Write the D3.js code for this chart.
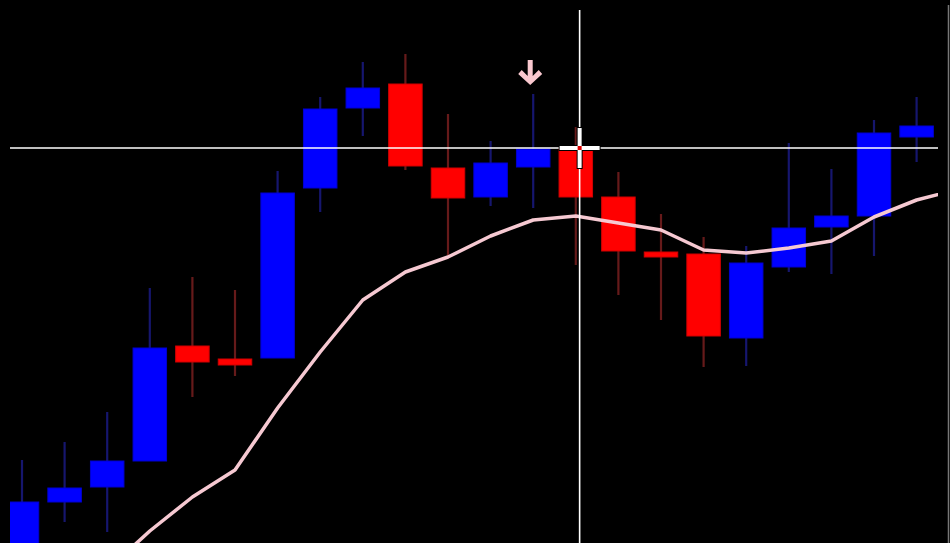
<!DOCTYPE html>
<html>
<head>
<meta charset="utf-8">
<script src="https://cdn.jsdelivr.net/npm/d3@7/dist/d3.min.js"></script>
<style>
  html, body { margin: 0; padding: 0; background: #000; }
  svg { display: block; }
</style>
</head>
<body>
<svg id="chart" width="950" height="543"></svg>
<script>
// ---- data ----
const opens  = [1.1983, 1.2041, 1.2056, 1.2082, 1.2197, 1.2184, 1.2185, 1.2355, 1.2435, 1.2459, 1.2375, 1.2346, 1.2376, 1.2395, 1.2346, 1.2291, 1.2289, 1.2205, 1.2276, 1.2316, 1.2327, 1.2406];
const highs  = [1.2083, 1.2101, 1.2131, 1.2255, 1.2266, 1.2253, 1.2372, 1.2446, 1.2481, 1.2489, 1.2429, 1.2402, 1.2449, 1.2416, 1.2371, 1.2329, 1.2306, 1.2297, 1.2400, 1.2374, 1.2423, 1.2446];
const lows   = [1.1968, 1.2021, 1.2011, 1.2082, 1.2146, 1.2167, 1.2185, 1.2331, 1.2407, 1.2373, 1.2288, 1.2337, 1.2335, 1.2278, 1.2248, 1.2223, 1.2176, 1.2177, 1.2271, 1.2269, 1.2287, 1.2381];
const closes = [1.2041, 1.2055, 1.2082, 1.2195, 1.2181, 1.2178, 1.2350, 1.2434, 1.2455, 1.2377, 1.2345, 1.2380, 1.2394, 1.2346, 1.2292, 1.2286, 1.2207, 1.2280, 1.2315, 1.2327, 1.2410, 1.2417];
const maValues = [1.1943, 1.1953, 1.1973, 1.2012, 1.2046, 1.2073, 1.2135, 1.2191, 1.2243, 1.2271, 1.2286, 1.2307, 1.2323, 1.2327, 1.2320, 1.2313, 1.2293, 1.2290, 1.2295, 1.2302, 1.2326, 1.2343, 1.2354];
const signalIndex = [12];          // down-arrow signal bar
const crosshairPrice = [1.2395];   // horizontal crosshair level
const crosshairBar = [13.09];      // vertical crosshair position (bar index)

// ---- layout ----
const W = 950, H = 543;
const plot = { left: 10, right: 938, top: 10, bottom: 543 };
const svg = d3.select("#chart");
svg.append("rect").attr("width", W).attr("height", H).attr("fill", "#000");

const x = d3.scaleLinear().domain([0, 21]).range([22, 916.6]);
const y = d3.scaleLinear().domain([1.2000, 1.2533]).range([543, 10]);
const bodyW = 33.5;

svg.append("defs").append("clipPath").attr("id", "clip")
  .append("rect").attr("x", plot.left).attr("y", 0)
  .attr("width", plot.right - plot.left).attr("height", H);

// right-hand panel edge
svg.append("line").attr("x1", 948.5).attr("x2", 948.5).attr("y1", 5).attr("y2", H)
  .attr("stroke", "#777").attr("stroke-width", 1.5);

const g = svg.append("g").attr("clip-path", "url(#clip)");

const candles = opens.map((o, i) => ({ i, o, h: highs[i], l: lows[i], c: closes[i], up: closes[i] >= o }));

// wicks
g.selectAll("line.wick").data(candles).join("line")
  .attr("class", "wick")
  .attr("x1", d => x(d.i)).attr("x2", d => x(d.i))
  .attr("y1", d => y(d.h)).attr("y2", d => y(d.l))
  .attr("stroke", d => d.up ? "#16166e" : "#661a1a")
  .attr("stroke-width", 2.2);

// bodies
g.selectAll("rect.body").data(candles).join("rect")
  .attr("class", "body")
  .attr("x", d => x(d.i) - bodyW / 2)
  .attr("width", bodyW)
  .attr("y", d => y(Math.max(d.o, d.c)))
  .attr("height", d => Math.max(2, Math.abs(y(d.o) - y(d.c))))
  .attr("fill", d => d.up ? "#0000ff" : "#ff0000")
  .attr("stroke", d => d.up ? "#0000d0" : "#d00000")
  .attr("stroke-width", 1);

// moving average
const line = d3.line().x((d, i) => x(i)).y(d => y(d)).curve(d3.curveLinear);
g.append("path").datum(maValues)
  .attr("d", line)
  .attr("fill", "none")
  .attr("stroke", "#f6c9d2")
  .attr("stroke-width", 3.5)
  .attr("stroke-linejoin", "round");

// signal arrow
signalIndex.forEach(si => {
  const ax = x(si) - 3;
  const tipY = y(highs[si]) - 9;
  const p = d3.path();
  p.moveTo(ax - 2.5, tipY - 25);
  p.lineTo(ax + 2.5, tipY - 25);
  p.lineTo(ax + 2.5, tipY - 9);
  p.lineTo(ax + 8.5, tipY - 15);
  p.lineTo(ax + 12, tipY - 11);
  p.lineTo(ax, tipY);
  p.lineTo(ax - 12, tipY - 11);
  p.lineTo(ax - 8.5, tipY - 15);
  p.lineTo(ax - 2.5, tipY - 9);
  p.closePath();
  svg.append("path").attr("d", p.toString()).attr("fill", "#f9c8cf");
});

// crosshair
const cy = y(crosshairPrice[0]);
const cx = x(crosshairBar[0]);
svg.append("line").attr("x1", plot.left).attr("x2", plot.right)
  .attr("y1", cy).attr("y2", cy).attr("stroke", "#fff").attr("stroke-width", 1.6);
svg.append("line").attr("x1", cx).attr("x2", cx)
  .attr("y1", plot.top).attr("y2", plot.bottom).attr("stroke", "#fff").attr("stroke-width", 1.6);

// cursor cross
const cur = svg.append("g");
cur.append("rect").attr("x", cx - 21).attr("y", cy - 3).attr("width", 42).attr("height", 6).attr("fill", "#000");
cur.append("rect").attr("x", cx - 3).attr("y", cy - 21).attr("width", 6).attr("height", 42).attr("fill", "#000");
cur.append("rect").attr("x", cx - 20).attr("y", cy - 2).attr("width", 40).attr("height", 4).attr("fill", "#fff");
cur.append("rect").attr("x", cx - 2).attr("y", cy - 20).attr("width", 4).attr("height", 40).attr("fill", "#fff");
cur.append("rect").attr("x", cx - 2).attr("y", cy - 2).attr("width", 4).attr("height", 4).attr("fill", "#e00000");
</script>
</body>
</html>
